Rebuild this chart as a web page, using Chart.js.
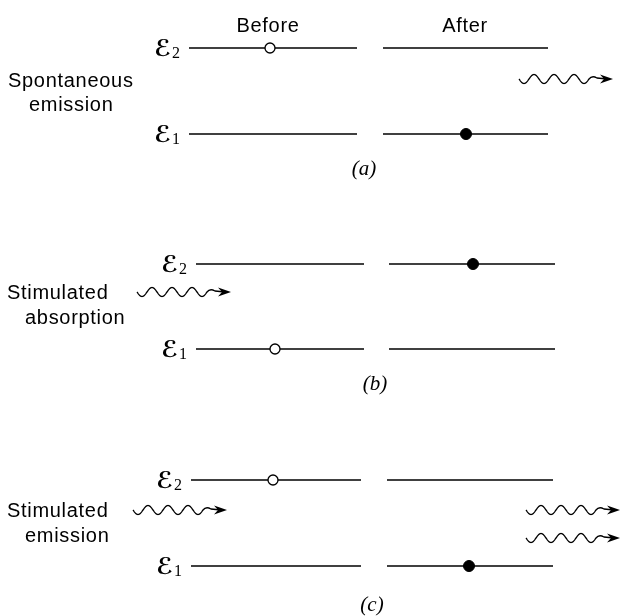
<!DOCTYPE html>
<html><head><meta charset="utf-8">
<script src="https://cdn.jsdelivr.net/npm/chart.js@4/dist/chart.umd.min.js"></script>
<style>html,body{margin:0;padding:0;background:#fff}#wrap{width:622px;height:616px}</style>
</head><body><div id="wrap"><canvas id="c" width="622" height="616"></canvas></div>
<script>
// ---- data ----
const panelTags = ['(a)', '(b)', '(c)'];
const processNames = [['Spontaneous', 'emission'], ['Stimulated', 'absorption'], ['Stimulated', 'emission']];
const columnTitles = ['Before', 'After'];
const levelSymbol = 'ℰ';
const levelIndices = ['2', '1'];          // upper, lower
const electronLevelBefore = [2, 1, 2];    // open circle
const electronLevelAfter = [1, 2, 1];     // filled circle
const photonsIn = [0, 1, 1];
const photonsOut = [1, 0, 2];

// ---- layout (diagram coordinates, 622 x 616) ----
const layout = [
  {upper: 48, lower: 134, before: [189, 357], after: [383, 548], eB: 270, eA: 466,
   inX: 137, inY: [], outX: 519, outY: [79], tag: [364, 169],
   proc: [[8, 87], [29, 111]]},
  {upper: 264, lower: 349, before: [196, 364], after: [389, 555], eB: 275, eA: 473,
   inX: 137, inY: [292], outX: 520, outY: [], tag: [375, 384],
   proc: [[7, 299], [25, 324]]},
  {upper: 480, lower: 566, before: [191, 361], after: [387, 553], eB: 273, eA: 469,
   inX: 133, inY: [510], outX: 526, outY: [510, 538], tag: [372, 605],
   proc: [[7, 517], [25, 542]]}
];
const headerPos = [[268, 32], [465, 32]];

// ---- datasets ----
const datasets = [];
layout.forEach((L, p) => {
  [L.upper, L.lower].forEach(y => {
    [L.before, L.after].forEach(seg => {
      datasets.push({type: 'line', data: [{x: seg[0], y: y}, {x: seg[1], y: y}],
        borderColor: '#000', borderWidth: 1.7, pointRadius: 0, showLine: true, order: 2});
    });
  });
});
layout.forEach((L, p) => {
  const yB = electronLevelBefore[p] === 2 ? L.upper : L.lower;
  const yA = electronLevelAfter[p] === 2 ? L.upper : L.lower;
  datasets.push({type: 'scatter', data: [{x: L.eB, y: yB}], pointRadius: 5, borderWidth: 1.3,
    borderColor: '#000', backgroundColor: '#fff', order: 1});
  datasets.push({type: 'scatter', data: [{x: L.eA, y: yA}], pointRadius: 5.5, borderWidth: 1,
    borderColor: '#000', backgroundColor: '#000', order: 1});
});

function wavy(ctx, x0, y0) {
  const P = 20, A = 4.5;
  ctx.save();
  ctx.strokeStyle = '#000'; ctx.fillStyle = '#000'; ctx.lineWidth = 1.3;
  ctx.beginPath();
  for (let t = 0; t <= 70; t += 0.5) {
    const x = x0 + t, y = y0 + A * Math.sin(2 * Math.PI * t / P);
    if (t === 0) ctx.moveTo(x, y); else ctx.lineTo(x, y);
  }
  ctx.quadraticCurveTo(x0 + 73, y0 - 4, x0 + 78, y0 - 1);
  ctx.lineTo(x0 + 88, y0);
  ctx.stroke();
  const tip = x0 + 94;
  ctx.beginPath();
  ctx.moveTo(tip, y0);
  ctx.lineTo(tip - 13, y0 - 4.5);
  ctx.lineTo(tip - 9, y0);
  ctx.lineTo(tip - 13, y0 + 4.5);
  ctx.closePath();
  ctx.fill();
  ctx.restore();
}

const decor = {
  id: 'decor',
  afterDatasetsDraw(chart) {
    const ctx = chart.ctx, sx = chart.scales.x, sy = chart.scales.y;
    const X = v => sx.getPixelForValue(v), Y = v => sy.getPixelForValue(v);
    ctx.save();
    ctx.fillStyle = '#000';
    // headers
    ctx.font = '20px "Liberation Sans", Arial, sans-serif';
    ctx.letterSpacing = '0.7px';
    ctx.textAlign = 'center'; ctx.textBaseline = 'alphabetic';
    columnTitles.forEach((t, i) => ctx.fillText(t, X(headerPos[i][0]), Y(headerPos[i][1])));
    layout.forEach((L, p) => {
      // process names
      ctx.font = '20px "Liberation Sans", Arial, sans-serif';
      ctx.letterSpacing = '0.7px';
      ctx.textAlign = 'left';
      processNames[p].forEach((t, i) => ctx.fillText(t, X(L.proc[i][0]), Y(L.proc[i][1])));
      ctx.letterSpacing = '0px';
      // level labels
      [L.upper, L.lower].forEach((y, k) => {
        const xr = X(L.before[0] - 9);
        ctx.font = '16px "Liberation Serif", serif';
        const sw = ctx.measureText(levelIndices[k]).width;
        ctx.textAlign = 'left';
        ctx.fillText(levelIndices[k], xr - sw, Y(y + 10));
        ctx.font = 'bold 23px "DejaVu Sans", "DejaVu Serif", serif';
        ctx.textAlign = 'right';
        ctx.fillText(levelSymbol, xr - sw - 1, Y(y + 8));
      });
      // tag
      ctx.font = 'italic 21px "Liberation Serif", serif';
      ctx.textAlign = 'center'; ctx.textBaseline = 'middle';
      ctx.fillText(panelTags[p], X(L.tag[0]), Y(L.tag[1]));
      ctx.textBaseline = 'alphabetic';
      // photons
      for (let i = 0; i < photonsIn[p]; i++) wavy(ctx, X(L.inX), Y(L.inY[i]));
      for (let i = 0; i < photonsOut[p]; i++) wavy(ctx, X(L.outX), Y(L.outY[i]));
    });
    ctx.restore();
  }
};

new Chart(document.getElementById('c'), {
  type: 'scatter',
  data: {datasets},
  options: {
    responsive: false, animation: false,
    layout: {padding: 0, autoPadding: false},
    plugins: {legend: {display: false}, tooltip: {enabled: false}},
    scales: {
      x: {type: 'linear', min: 0, max: 622, display: false},
      y: {type: 'linear', min: 0, max: 616, reverse: true, display: false}
    }
  },
  plugins: [decor]
});
</script></body></html>
